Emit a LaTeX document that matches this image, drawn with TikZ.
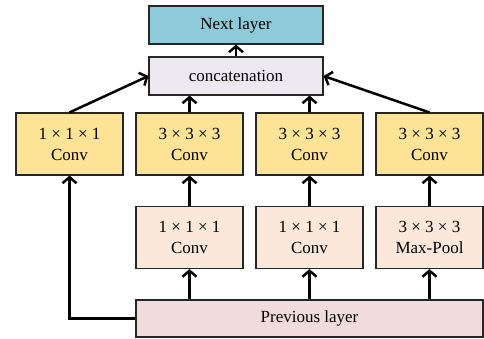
\documentclass[tikz,border=0pt]{standalone}
\usepackage{fontspec}
\setmainfont{Liberation Serif}
\usetikzlibrary{arrows.meta}
\definecolor{nextc}{HTML}{8ECBD8}
\definecolor{catc}{HTML}{EDE9F1}
\definecolor{convc}{HTML}{FCE396}
\definecolor{redc}{HTML}{FBE8DB}
\definecolor{prevc}{HTML}{F0DCDC}
\begin{document}
\begin{tikzpicture}[x=1pt,y=-1pt,
  blk/.style={draw=black!85,line width=1.1pt,inner sep=0pt,align=center,
    font=\fontsize{17}{21}\selectfont},
  wide/.style={blk,minimum width=174pt,minimum height=38pt},
  unit/.style={blk,minimum width=107pt,minimum height=62pt},
  flow/.style={line width=2.5pt,-{Straight Barb[length=6pt,width=14pt,line width=2.5pt]}}]
\useasboundingbox (0,0) rectangle (484,338);
% top: output and merge
\node[wide,fill=nextc] (next) at (236,25) {Next layer};
\node[wide,fill=catc] (cat) at (236,76) {concatenation};
% upper row of branches
\node[unit,fill=convc] (a1) at (69.5,144) {1 × 1 × 1\\Conv};
\node[unit,fill=convc] (b1) at (189.5,144) {3 × 3 × 3\\Conv};
\node[unit,fill=convc] (c1) at (309.5,144) {3 × 3 × 3\\Conv};
\node[unit,fill=convc] (d1) at (429.5,144) {3 × 3 × 3\\Conv};
% lower row of branches
\node[unit,fill=redc] (b2) at (189.5,237.5) {1 × 1 × 1\\Conv};
\node[unit,fill=redc] (c2) at (309.5,237.5) {1 × 1 × 1\\Conv};
\node[unit,fill=redc] (d2) at (429.5,237.5) {3 × 3 × 3\\Max-Pool};
% input
\node[blk,fill=prevc,minimum width=347pt,minimum height=37pt] (prev) at (309.5,318.5) {Previous layer};
% connectors
\draw[flow] (cat.north) -- (next.south);
\draw[flow] (a1.north) -- (cat.west);
\draw[flow] (d1.north) -- (cat.east);
\draw[flow] (b1.north) -- (cat.south -| b1.north);
\draw[flow] (c1.north) -- (cat.south -| c1.north);
\draw[flow] (b2.north) -- (b1.south);
\draw[flow] (c2.north) -- (c1.south);
\draw[flow] (d2.north) -- (d1.south);
\draw[flow] (prev.north -| b2.south) -- (b2.south);
\draw[flow] (prev.north -| c2.south) -- (c2.south);
\draw[flow] (prev.north -| d2.south) -- (d2.south);
\draw[flow] (prev.west) -| (a1.south);
\end{tikzpicture}
\end{document}
